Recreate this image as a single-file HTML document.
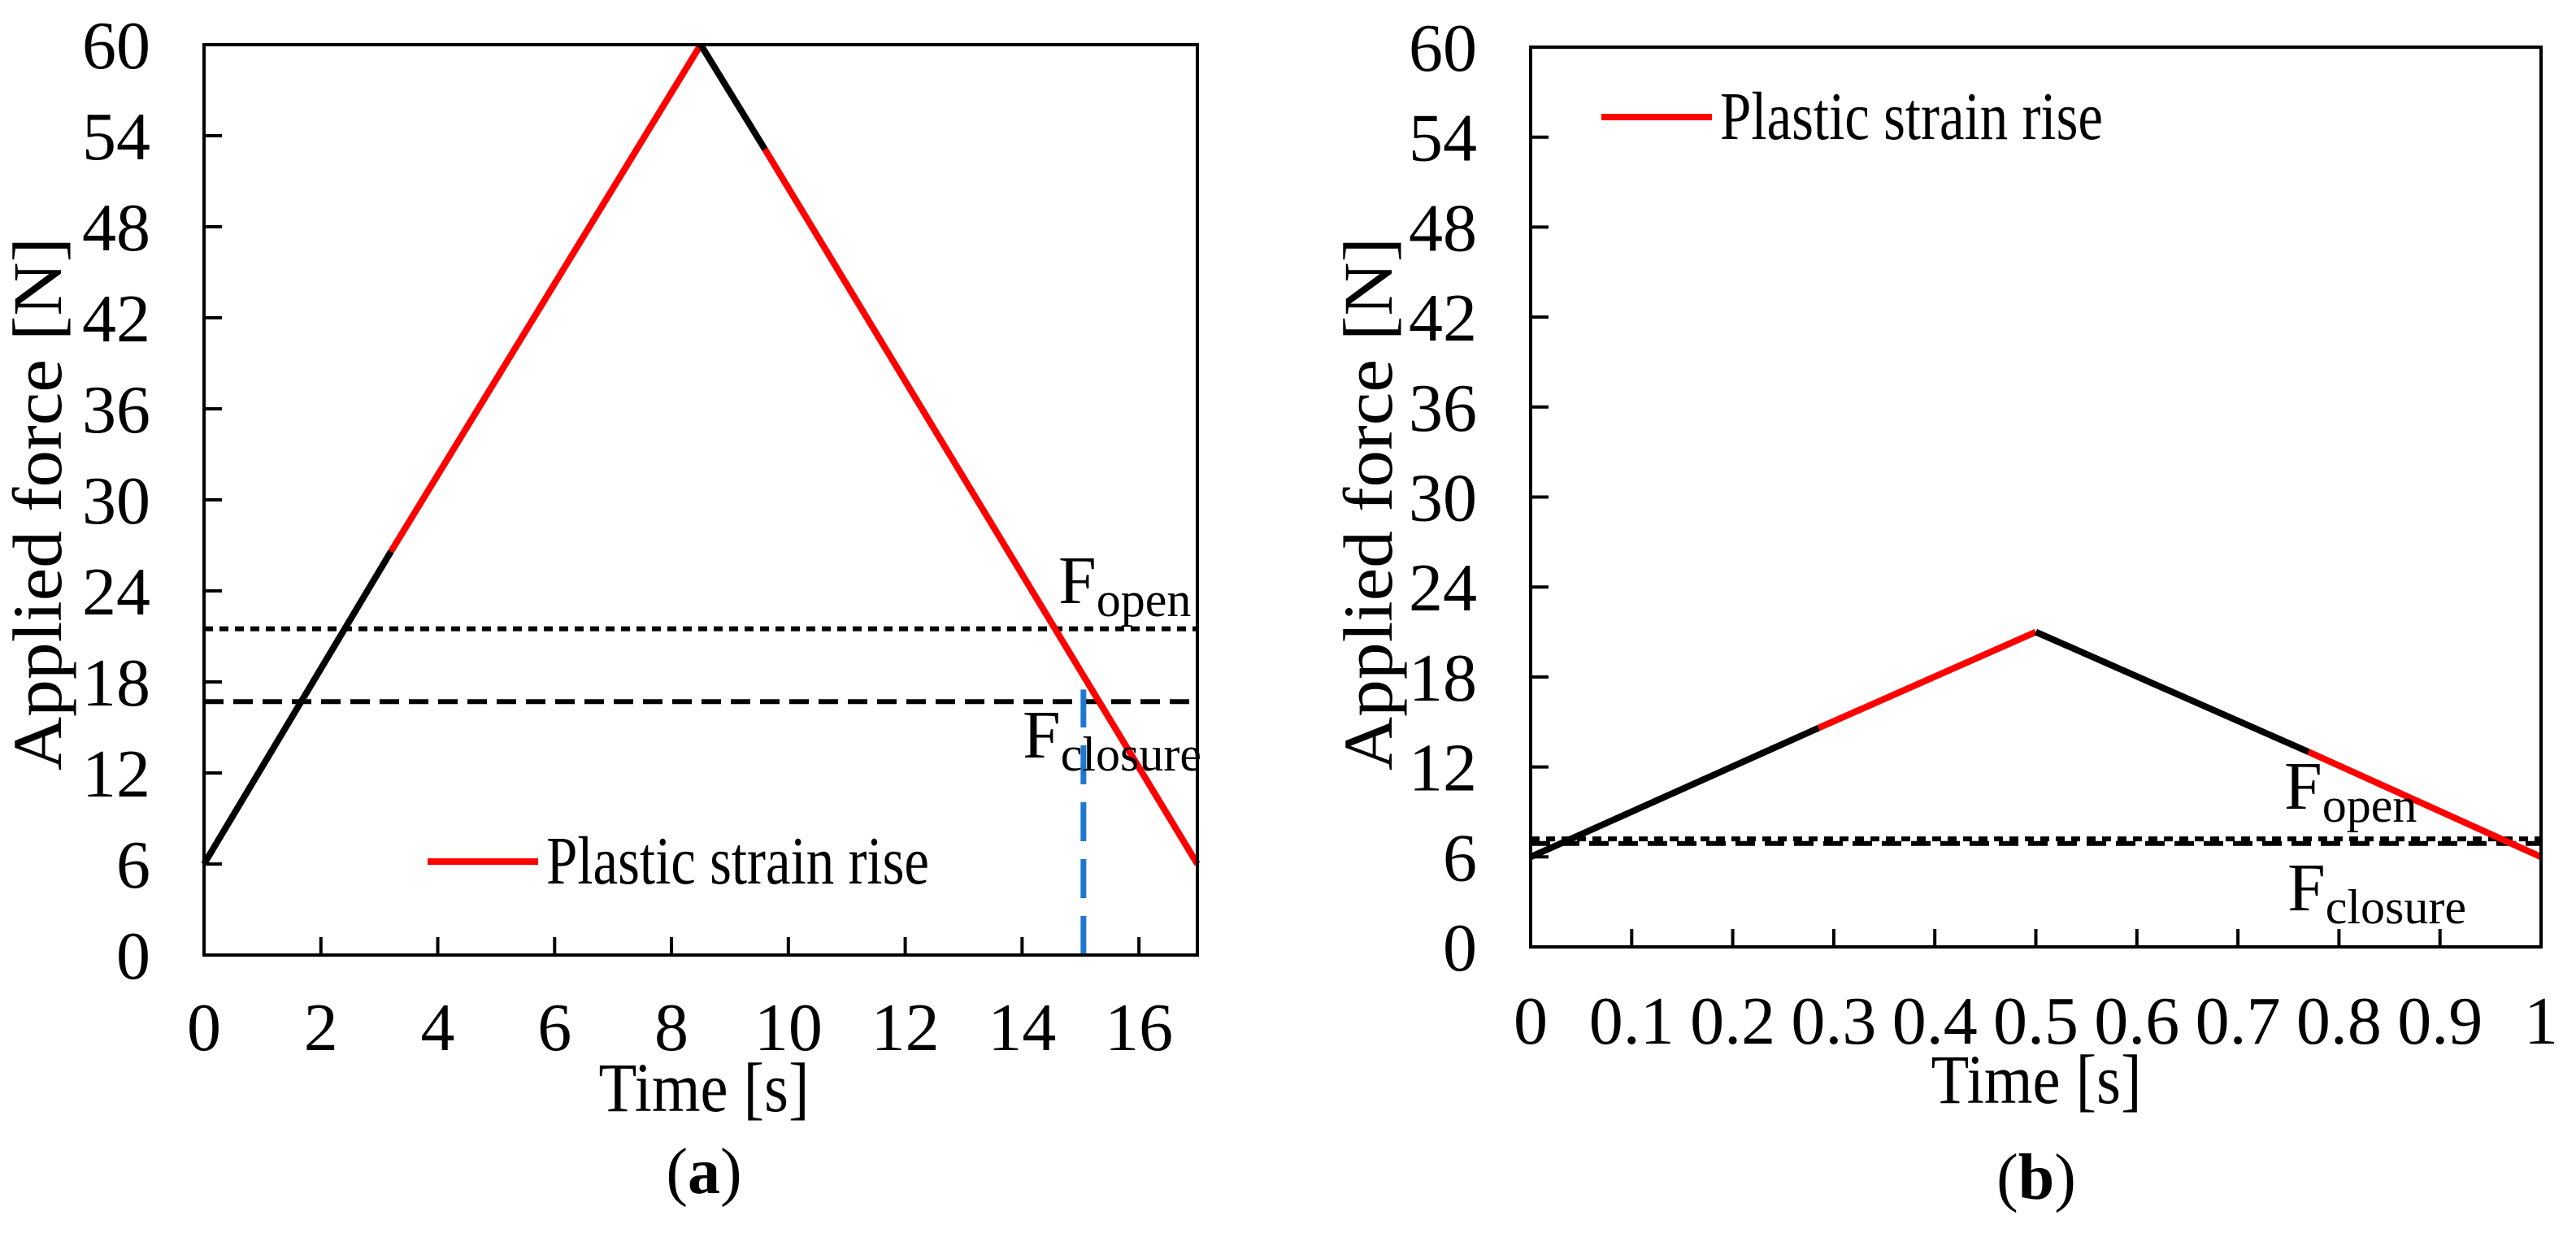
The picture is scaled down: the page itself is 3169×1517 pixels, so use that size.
<!DOCTYPE html>
<html><head><meta charset="utf-8"><style>
html,body{margin:0;padding:0;background:#fff;}
svg text{font-family:"Liberation Serif",serif;fill:#000;}
</style></head><body>
<svg id="fig" width="3169" height="1512" viewBox="0 0 3169 1512" xmlns="http://www.w3.org/2000/svg"></svg>
<script>
// Panel (a) data
const aTimes = [0, 3.2, 8.5, 9.6, 17];
const aForces = [6, 26.6, 60, 53.1, 6];
const aSegColors = ["#000", "#ff0000", "#000", "#ff0000"];
const aOpen = 21.5;
const aClosure = 16.7;
const aBlueT = 15.05;
const aBlueTop = 17.5;
const aXTicks = [0, 2, 4, 6, 8, 10, 12, 14, 16];
const yTicks = [0, 6, 12, 18, 24, 30, 36, 42, 48, 54, 60];
// Panel (b) data
const bTimes = [0, 0.285, 0.5, 0.77, 1];
const bForces = [6, 14.6, 21, 13, 6];
const bSegColors = ["#000", "#ff0000", "#000", "#ff0000"];
const bOpen = 7.2;
const bClosure = 6.9;
const bXTicks = [0, 0.1, 0.2, 0.3, 0.4, 0.5, 0.6, 0.7, 0.8, 0.9, 1];

const NS = "http://www.w3.org/2000/svg";
const svg = document.getElementById("fig");
function mk(tag, attrs, parent) {
  const e = document.createElementNS(NS, tag);
  for (const k in attrs) e.setAttribute(k, attrs[k]);
  (parent || svg).appendChild(e);
  return e;
}

function panel(p) {
  const g = mk("g", {});
  
  
  const sx = v => p.L + (v - p.xmin) / (p.xmax - p.xmin) * (p.R - p.L);
  const sy = v => p.B - v / 60 * (p.B - p.T);
  const lo = mk("line", {x1: p.L, x2: p.R, y1: sy(p.open), y2: sy(p.open), stroke: "#000", "stroke-width": 6, "stroke-dasharray": "11 8"}, g);
  
  
  const lc = mk("line", {x1: p.L, x2: p.R, y1: sy(p.closure), y2: sy(p.closure), stroke: "#000", "stroke-width": 6, "stroke-dasharray": "24 12"}, g);
  
  
  if (p.blueT !== undefined) {
    const bl = mk("line", {x1: sx(p.blueT), x2: sx(p.blueT), y1: p.B, y2: sy(p.blueTop), stroke: "#1f78d0", "stroke-width": 7, "stroke-dasharray": "48 22"}, g);
    
    
  }
  for (let i = 0; i < p.times.length - 1; i++) {
    const s = mk("line", {x1: sx(p.times[i]), y1: sy(p.forces[i]), x2: sx(p.times[i+1]), y2: sy(p.forces[i+1]), stroke: p.colors[i], "stroke-width": 8, "stroke-linecap": "butt"}, g);
    
    
  }
  const fr = mk("rect", {x: p.L, y: p.T, width: p.R - p.L, height: p.B - p.T, fill: "none", stroke: "#000", "stroke-width": 4}, g);
  
  
  yTicks.forEach(v => {
    const t = mk("line", {x1: p.L, x2: p.L + 22, y1: sy(v), y2: sy(v), stroke: "#000", "stroke-width": 4}, g);
    
    
    const l = mk("text", {x: p.L - 66, y: sy(v) + 29, "text-anchor": "end", "font-size": 84}, g);
    l.textContent = v;
    
    
  });
  p.xticks.forEach(v => {
    const t = mk("line", {x1: sx(v), x2: sx(v), y1: p.B, y2: p.B - 22, stroke: "#000", "stroke-width": 4}, g);
    
    
    const l = mk("text", {x: sx(v), y: p.tickY, "text-anchor": "middle", "font-size": 84}, g);
    l.textContent = v;
    
    
  });
  const xt = mk("text", {x: p.xtX, y: p.xtY, "text-anchor": "middle", "font-size": 86, textLength: 259, lengthAdjust: "spacingAndGlyphs"}, g);
  xt.textContent = "Time [s]";
  
  
  const yt = mk("text", {x: 0, y: 0, "text-anchor": "middle", "font-size": 86, textLength: 656, lengthAdjust: "spacingAndGlyphs", transform: "translate(" + p.ytX + "," + p.ytY + ") rotate(-90)"}, g);
  yt.textContent = "Applied force [N]";
  
  
  const pl = mk("text", {x: p.xtX, y: p.plY, "text-anchor": "middle", "font-size": 80}, g);
  pl.innerHTML = '(<tspan font-weight="bold">' + p.letter + '</tspan>)';
  
  
  const fo = mk("text", {x: p.foX, y: p.foY, "font-size": 84}, g);
  fo.innerHTML = 'F<tspan font-size="60" dy="16">open</tspan>';
  
  
  const fc = mk("text", {x: p.fcX, y: p.fcY, "font-size": 84}, g);
  fc.innerHTML = 'F<tspan font-size="60" dy="16">closure</tspan>';
  
  
  const lg = mk("g", {}, g);
  
  
  const ll = mk("line", {x1: p.lgX, x2: p.lgX + 136, y1: p.lgY, y2: p.lgY, stroke: "#ff0000", "stroke-width": 8}, lg);
  
  
  const lt = mk("text", {x: p.lgX + 146, y: p.lgY + 27, "font-size": 84, textLength: 471, lengthAdjust: "spacingAndGlyphs"}, lg);
  lt.textContent = "Plastic strain rise";
  
  
}

panel({name: "panel-a", letter: "a", L: 251, R: 1473, T: 55, B: 1175, xmin: 0, xmax: 17,
  times: aTimes, forces: aForces, colors: aSegColors, open: aOpen, closure: aClosure,
  blueT: aBlueT, blueTop: aBlueTop, xticks: aXTicks, tickY: 1292,
  xtX: 866, xtY: 1367, ytX: 75, ytY: 620, plY: 1468,
  foX: 1302, foY: 742, fcX: 1258, fcY: 932, lgX: 526, lgY: 1060});

panel({name: "panel-b", letter: "b", L: 1883, R: 3126, T: 58, B: 1165, xmin: 0, xmax: 1,
  times: bTimes, forces: bForces, colors: bSegColors, open: bOpen, closure: bClosure,
  xticks: bXTicks, tickY: 1284,
  xtX: 2505, xtY: 1357, ytX: 1712, ytY: 620, plY: 1475,
  foX: 2810, foY: 995, fcX: 2814, fcY: 1120, lgX: 1970, lgY: 144});
</script>
</body></html>
